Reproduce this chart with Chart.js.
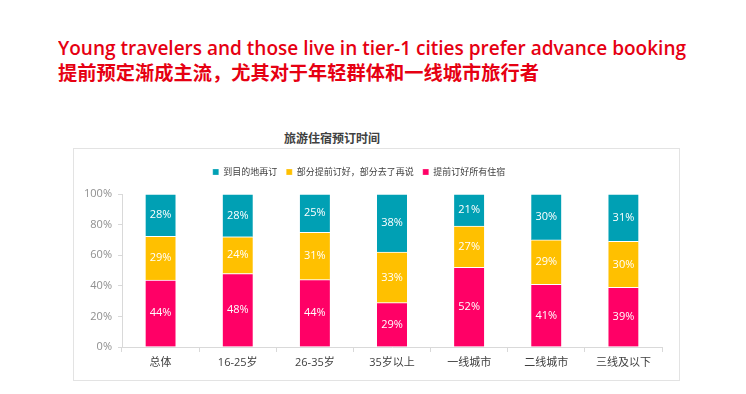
<!DOCTYPE html>
<html>
<head>
<meta charset="utf-8">
<script src="https://cdn.jsdelivr.net/npm/chart.js@4/dist/chart.umd.min.js"></script>
<style>
  body { margin: 0; background: #fff; width: 746px; height: 394px; position: relative; overflow: hidden; }
  .head { position: absolute; left: 58px; color: #e60012; white-space: nowrap; transform-origin: 0 0; }
  #en { top: 36px; font: 600 20px/24px "Open Sans", sans-serif; }
  #cn { top: 60px; font: bold 19px/24px "Noto Sans CJK SC", sans-serif; }
  #ctitle { position: absolute; left: 232px; width: 200px; top: 130px; text-align: center;
            font: bold 12px/16px "Noto Sans CJK SC", sans-serif; color: #404040; }
  #box { position: absolute; left: 73px; top: 148px; width: 605px; height: 231px; border: 1px solid #e3e3e3; }
</style>
</head>
<body>
<div class="head" id="en">Young travelers and those live in tier-1 cities prefer advance booking</div>
<div class="head" id="cn">提前预定渐成主流，尤其对于年轻群体和一线城市旅行者</div>
<div id="ctitle">旅游住宿预订时间</div>
<div id="box"><canvas id="myChart" width="605" height="231"></canvas></div>
<script>
// stretch the two headlines to the widths they have in the picture
let en = document.getElementById('en');
en.style.transform = 'scaleX(' + (628 / en.getBoundingClientRect().width) + ')';
let cn = document.getElementById('cn');
cn.style.transform = 'scaleX(' + (481 / cn.getBoundingClientRect().width) + ')';

let categories = ['总体', '16-25岁', '26-35岁', '35岁以上', '一线城市', '二线城市', '三线及以下'];
let seriesNames = ['提前订好所有住宿', '部分提前订好，部分去了再说', '到目的地再订'];
let allBooked = [43.8, 48, 44, 29, 52, 41, 39];
let partBooked = [28.6, 24, 31, 33, 27, 29, 30];
let onArrival = [27.6, 28, 25, 38, 21, 30, 31];
let yTicks = [0, 20, 40, 60, 80, 100];
let colorHex = ['#ff0066', '#ffc000', '#00a0b4'];

let fontFamily = '"Open Sans", "Noto Sans CJK SC", sans-serif';

let legendSpace = {
    id: 'legendSpace',
    beforeInit(chart) {
        let fit = chart.legend.fit;
        chart.legend.fit = function () {
            fit.bind(chart.legend)();
            this.height = 45;
        };
    },
    afterLayout(chart) {
        let lg = chart.legend;
        lg.top += 9.5;
        lg.bottom += 9.5;
        lg.left -= 9;
        lg.right -= 9;
    }
};

let segmentLabels = {
    id: 'segmentLabels',
    afterDatasetsDraw(chart) {
        let c = chart.ctx;
        c.save();
        c.fillStyle = '#ffffff';
        c.font = '11px ' + fontFamily;
        c.textAlign = 'center';
        c.textBaseline = 'middle';
        chart.data.datasets.forEach((ds, i) => {
            chart.getDatasetMeta(i).data.forEach((bar, j) => {
                c.fillText(Math.round(ds.data[j]) + '%', bar.x, (bar.y + bar.base) / 2);
            });
        });
        c.restore();
    }
};

let ctx = document.getElementById('myChart').getContext('2d');
let myChart = new Chart(ctx, {
    type: 'bar',
    data: {
        labels: categories,
        datasets: [allBooked, partBooked, onArrival].map((d, i) => ({
            label: seriesNames[i],
            data: d,
            backgroundColor: colorHex[i],
            borderColor: '#ffffff',
            borderWidth: { top: 1, bottom: 0, left: 0, right: 0 },
            borderSkipped: false,
            barThickness: 30
        }))
    },
    options: {
        responsive: false,
        animation: false,
        layout: { padding: { left: 0, right: 17, top: 0, bottom: 0 } },
        plugins: {
            tooltip: { enabled: false },
            legend: {
                position: 'top',
                reverse: true,
                labels: {
                    boxWidth: 6,
                    boxHeight: 6,
                    padding: 9,
                    color: '#404040',
                    font: { family: '"Noto Sans CJK SC", sans-serif', size: 9 }
                }
            }
        },
        scales: {
            x: {
                stacked: true,
                afterFit: (s) => { s.height = 33; },
                grid: { offset: true, drawOnChartArea: false, tickLength: 5, color: '#d9d9d9' },
                border: { color: '#d9d9d9' },
                ticks: { color: '#404040', padding: 4, font: { family: fontFamily, size: 11 } }
            },
            y: {
                stacked: true,
                min: 0,
                max: 100,
                afterFit: (s) => { s.width = 48; },
                afterBuildTicks: (s) => { s.ticks = yTicks.map(v => ({ value: v })); },
                grid: { drawOnChartArea: false, tickLength: 4, color: '#d9d9d9' },
                border: { color: '#d9d9d9' },
                ticks: {
                    color: '#8f8f8f',
                    padding: 6,
                    font: { family: fontFamily, size: 11 },
                    callback: (v) => v + '%'
                }
            }
        }
    },
    plugins: [legendSpace, segmentLabels]
});
</script>
</body>
</html>
